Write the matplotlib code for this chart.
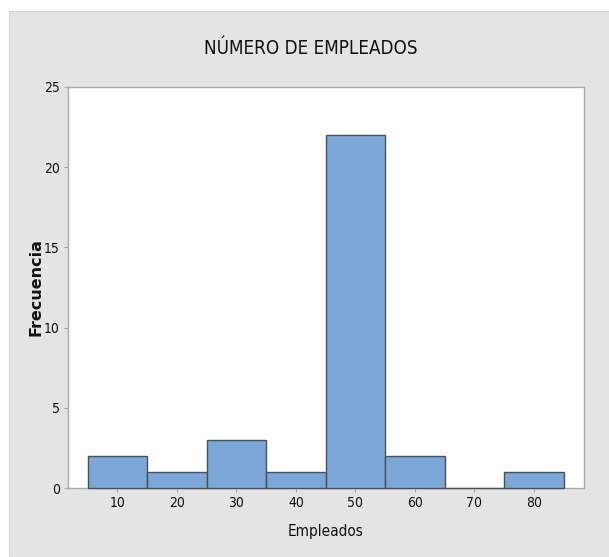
import matplotlib
matplotlib.use("Agg")
import matplotlib.pyplot as plt
from matplotlib.patches import Rectangle

# bin centers and counts of the histogram
centers = [10, 20, 30, 40, 50, 60, 70, 80]
counts = [2, 1, 3, 1, 22, 2, 0, 1]
bin_width = 10
yticks = [0, 5, 10, 15, 20, 25]

title = "NÚMERO DE EMPLEADOS"
xlabel = "Empleados"
ylabel = "Frecuencia"

narrow = dict(family="DejaVu Sans", stretch="condensed")

fig = plt.figure(figsize=(6.09, 5.57), dpi=100)
fig.patch.set_facecolor("white")
# grey Minitab-like panel behind the graph
fig.patches.append(Rectangle((9 / 609, 0), 600 / 609, 546 / 557, transform=fig.transFigure,
                             facecolor="#e4e4e4", edgecolor="#d6d6d6", lw=0.8, zorder=-5))

ax = fig.add_axes([68 / 609, 1 - 488 / 557, 516 / 609, 401 / 557])
ax.set_zorder(2)
ax.set_facecolor("white")
ax.bar(centers, counts, width=bin_width, color="#7ba7d9", edgecolor="#4a5058", linewidth=1.0,
       zorder=3, clip_on=False)

ax.set_xlim(1.7, 88.4)
ax.set_ylim(0, 25)
ax.set_xticks(centers)
ax.set_yticks(yticks)
for s in ax.spines.values():
    s.set_color("#a8a8a8")
    s.set_linewidth(1.0)
ax.tick_params(axis="both", length=3, width=0.8, color="#a8a8a8", pad=3)
for lab in ax.get_xticklabels() + ax.get_yticklabels():
    lab.set_family("DejaVu Sans")
    lab.set_stretch("condensed")
    lab.set_fontsize(10)
    lab.set_color("#111111")

ax.set_xlabel(xlabel, fontsize=11, color="#111111", labelpad=10, **narrow)
ax.set_ylabel(ylabel, family="DejaVu Sans", fontweight="bold", fontsize=11.5,
              color="#111111", labelpad=0)
fig.text(311 / 609, 1 - 48 / 557, title, fontsize=13.5, color="#111111",
         ha="center", va="center", **narrow)

plt.savefig("out.png", dpi=100)
